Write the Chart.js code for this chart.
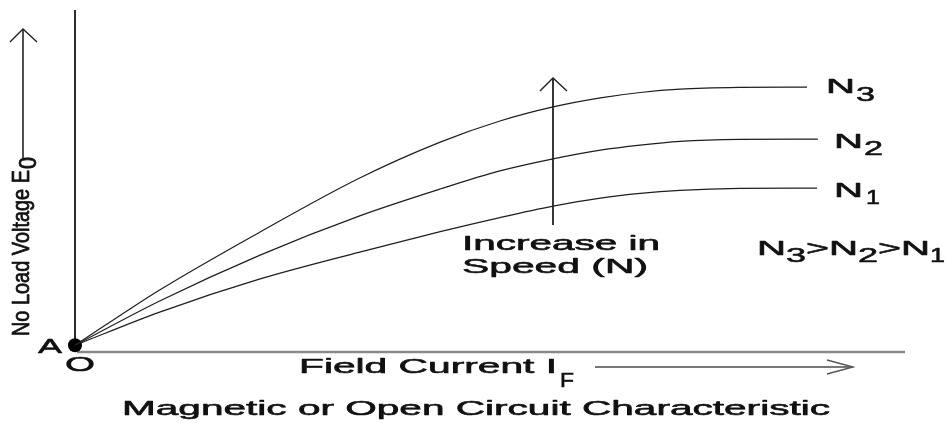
<!DOCTYPE html>
<html>
<head>
<meta charset="utf-8">
<script src="https://cdn.jsdelivr.net/npm/chart.js@4.4.1/dist/chart.umd.min.js"></script>
<style>
  html, body { margin: 0; padding: 0; background: #ffffff; }
  #wrap { width: 951px; height: 423px; position: relative; }
</style>
</head>
<body>
<div id="wrap"><canvas id="c"></canvas></div>
<script>
// ---- data (field current vs no-load voltage, arbitrary units) ----
const seriesNames = ["N3", "N2", "N1"];
const fieldCurrent   = [0, 10.2, 22.3, 34.3, 44.0, 51.2, 57.6, 63.3, 68.1, 72.9, 80.1];
const endCurrentN3   = 88.2;
const endCurrentN2   = 89.5;
const endCurrentN1   = 89.4;
const voltageN3      = [0, 16.5, 33.8, 49.9, 60.6, 66.9, 71.1, 73.8, 75.4, 76.4, 76.9, 77.0];
const voltageN2      = [0, 13.2, 26.9, 38.6, 46.6, 52.0, 55.6, 58.2, 59.7, 60.8, 61.4, 61.5];
const voltageN1      = [0, 9.9, 19.8, 27.8, 33.9, 38.1, 41.5, 43.9, 45.3, 46.2, 46.8, 46.9];
const originPoint    = [0, 0];
const xRange = [0, 100];
const yRange = [-2, 100];

function pts(xs, ys) { return xs.map((x, i) => ({ x: x, y: ys[i] })); }

const FONT = '"Liberation Sans", Arial, Helvetica, sans-serif';
const INK = '#111111';

function txt(ctx, s, x, y, size, w, lw) {
  ctx.save();
  ctx.font = size + 'px ' + FONT;
  const m = ctx.measureText(s).width;
  const sx = w ? w / m : 1.8;
  ctx.translate(x, y);
  ctx.scale(sx, 1);
  ctx.fillStyle = INK;
  ctx.strokeStyle = INK;
  ctx.lineWidth = lw == null ? 0.6 : lw;
  ctx.lineJoin = 'round';
  ctx.textAlign = 'left';
  ctx.textBaseline = 'alphabetic';
  ctx.fillText(s, 0, 0);
  ctx.strokeText(s, 0, 0);
  ctx.restore();
  return m * sx;
}

function line(ctx, pts, color, width) {
  ctx.save();
  ctx.strokeStyle = color;
  ctx.lineWidth = width;
  ctx.beginPath();
  ctx.moveTo(pts[0][0], pts[0][1]);
  for (let i = 1; i < pts.length; i++) ctx.lineTo(pts[i][0], pts[i][1]);
  ctx.stroke();
  ctx.restore();
}

const axesPlugin = {
  id: 'axesPlugin',
  beforeDatasetsDraw(chart) {
    const ctx = chart.ctx;
    const xs = chart.scales.x, ys = chart.scales.y;
    const x0 = xs.getPixelForValue(0);
    const yTop = ys.getPixelForValue(yRange[1]);
    const y0 = ys.getPixelForValue(0);
    const yBase = ys.getPixelForValue(yRange[0]);
    const xEnd = xs.getPixelForValue(xRange[1]);
    // vertical axis
    line(ctx, [[x0, yTop], [x0, y0]], '#2a2a2a', 2);
    // horizontal axis
    line(ctx, [[x0 + 2, yBase], [xEnd, yBase]], '#8a8a8a', 2.5);
  },
  afterDatasetsDraw(chart) {
    const ctx = chart.ctx;
    // Y label, rotated
    ctx.save();
    ctx.translate(29, 336);
    ctx.rotate(-Math.PI / 2);
    txt(ctx, 'No Load Voltage E', 0, 0, 24, 166, 0.8);
    txt(ctx, '0', 167, 7, 24, 12, 0.8);
    ctx.restore();
    // Y label arrow
    line(ctx, [[23, 158], [23, 29]], '#222', 1.6);
    line(ctx, [[10, 42], [23, 29], [37, 42]], '#222', 1.4);

    // A and O
    txt(ctx, 'A', 38, 353, 21, 24);
    txt(ctx, 'O', 65, 371, 21, 30);

    // X label
    const w = txt(ctx, 'Field Current I', 299, 373, 21, 258);
    txt(ctx, 'F', 299 + w + 3, 387, 21, 14);
    // X arrow
    line(ctx, [[595, 367], [853, 367]], '#777', 1.8);
    line(ctx, [[827, 360], [853, 367], [827, 374]], '#555', 1.4);

    // Title
    txt(ctx, 'Magnetic or Open Circuit Characteristic', 122, 415, 21, 708);

    // Speed arrow
    line(ctx, [[553, 225], [553, 78]], '#222', 1.8);
    line(ctx, [[540, 91], [553, 78], [567, 91]], '#222', 1.4);
    txt(ctx, 'Increase in', 462, 250, 21, 198);
    txt(ctx, 'Speed (N)', 462, 273, 21, 186);

    // Curve labels
    txt(ctx, 'N', 826, 93, 21, 29);
    txt(ctx, '3', 856, 101, 21, 19);
    txt(ctx, 'N', 834, 148, 21, 29);
    txt(ctx, '2', 864, 155, 21, 19);
    txt(ctx, 'N', 834, 197, 21, 29);
    txt(ctx, '1', 866, 204, 21, 14);

    // Speed relation
    let x = 757;
    const parts = [['N', 0, 29], ['3', 7, 20], ['>', 0, 23], ['N', 0, 29], ['2', 7, 20], ['>', 0, 23], ['N', 0, 29], ['1', 7, 15]];
    for (const p of parts) {
      x += txt(ctx, p[0], x, 255 + p[1], 21, p[2]);
    }
  }
};

const curveStyle = {
  borderColor: '#1e1e1e',
  borderWidth: 1.2,
  pointRadius: 0,
  fill: false,
  cubicInterpolationMode: 'monotone'
};

new Chart(document.getElementById('c'), {
  type: 'line',
  data: {
    datasets: [
      Object.assign({ label: seriesNames[0], data: pts(fieldCurrent.concat([endCurrentN3]), voltageN3) }, curveStyle),
      Object.assign({ label: seriesNames[1], data: pts(fieldCurrent.concat([endCurrentN2]), voltageN2) }, curveStyle),
      Object.assign({ label: seriesNames[2], data: pts(fieldCurrent.concat([endCurrentN1]), voltageN1) }, curveStyle),
      {
        label: 'origin',
        data: [{ x: originPoint[0], y: originPoint[1] }],
        showLine: false,
        clip: false,
        pointRadius: 7,
        pointBackgroundColor: '#000',
        pointBorderColor: '#000',
        pointBorderWidth: 0
      }
    ]
  },
  options: {
    responsive: true,
    maintainAspectRatio: false,
    animation: false,
    events: [],
    layout: { padding: { left: 75, right: 46, top: 10, bottom: 71 } },
    scales: {
      x: { type: 'linear', min: xRange[0], max: xRange[1], display: false },
      y: { type: 'linear', min: yRange[0], max: yRange[1], display: false }
    },
    plugins: {
      legend: { display: false },
      tooltip: { enabled: false },
      title: { display: false }
    }
  },
  plugins: [axesPlugin]
});
</script>
</body>
</html>
